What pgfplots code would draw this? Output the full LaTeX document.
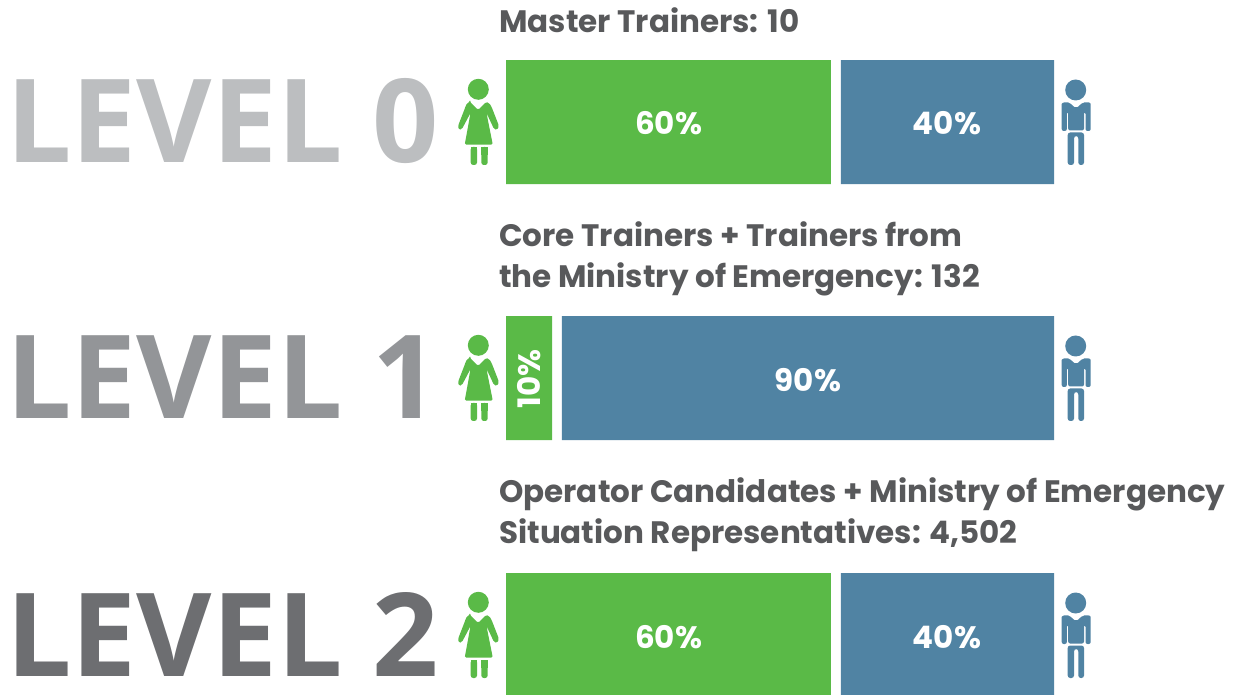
\documentclass[border=0pt]{standalone}
\usepackage{fontspec}
\usepackage{pgfplots}
\pgfplotsset{compat=1.18}
\newfontfamily\levelfont{Open Sans}
\newfontfamily\subfont{Poppins}
\definecolor{grn}{HTML}{5ABA47}
\definecolor{blu}{HTML}{5083A3}
\definecolor{txt}{HTML}{58595B}

% values are percent of the 548 px strip (gap between them is its own series)
\pgfplotstableread{
y   women gap men
122 59.3  1.8 38.9
378 8.4   1.8 89.8
635 59.3  1.8 38.9
}\levels

\newcommand{\woman}[1]{%
  \begin{scope}[shift={(0,#1-122)},fill=grn]
    \fill (478.3,89.3) circle (10.5);
    \fill[rounded corners=1.5] (470,102) -- (478,110) -- (486,102)
      .. controls (490,103) and (491,106) .. (492,108) -- (499,126) -- (497,130) -- (494,129) -- (486.5,113)
      -- (492.8,144.7) -- (464.7,144.7) -- (470.5,113) -- (462,129) -- (459,130) -- (458,126) -- (465,108)
      .. controls (466,105) and (467,103) .. (470,102) -- cycle;
    \fill[rounded corners=2.5] (470.7,147) -- (477,147) -- (477,165) -- (470.7,165) -- cycle;
    \fill[rounded corners=2.5] (481.3,147) -- (487.7,147) -- (487.7,165) -- (481.3,165) -- cycle;
    \fill (470.7,147) rectangle (477,155);
    \fill (481.3,147) rectangle (487.7,155);
  \end{scope}}
\newcommand{\man}[1]{%
  \begin{scope}[shift={(0,#1-122)},fill=blu]
    \fill (1075.7,90) circle (10.5);
    \fill[rounded corners=2] (1061.7,131) -- (1061.7,106) .. controls (1061.7,103) and (1064,102.3) .. (1067,102.3)
      -- (1069,102.3) -- (1076,108.5) -- (1083,102.3) -- (1086,102.3) .. controls (1089,102.3) and (1090.7,103) .. (1090.7,106)
      -- (1090.7,131) -- (1085.5,131) -- (1085.5,112) -- (1084,112) -- (1084,130.5) -- (1068.2,130.5) -- (1068.2,112) -- (1066.8,112) -- (1066.8,131) -- cycle;
    \fill[rounded corners=2.5] (1067.7,132.5) -- (1084,132.5) -- (1084,165) -- (1078.3,165) -- (1078.3,136) -- (1074,136) -- (1074,165) -- (1067.7,165) -- cycle;
  \end{scope}}

\begin{document}
\begin{tikzpicture}[x=1pt,y=1pt]
\useasboundingbox (0,0) rectangle (1253,694);
\begin{axis}[
    at={(0,0)}, anchor=south west,
    scale only axis, width=1253pt, height=694pt,
    axis lines=none,
    xbar stacked, bar width=124pt,
    y dir=reverse,
    xmin=-92.336, xmax=136.314,
    ymin=0, ymax=694,
    ]
\addplot[draw=none,fill=grn] table[x=women,y=y] {\levels};
\addplot[draw=none,fill=none] table[x=gap,y=y] {\levels};
\addplot[draw=none,fill=blu] table[x=men,y=y] {\levels};
\end{axis}
\begin{scope}[shift={(0,694)},y=-1pt]
  \foreach \yy/\lab/\col in {163/0/BCBEC0,419/1/939598,676/2/6D6E71}{
    \definecolor{lv}{HTML}{\col}
    \node[anchor=base west,inner sep=0,text=lv,font=\levelfont\bfseries\fontsize{116}{116}\selectfont] at (6,\yy) {LEVEL \lab};
  }
  \woman{122}\woman{378}\woman{635}
  \man{122}\man{378}\man{635}
  \tikzset{sub/.style={anchor=base west,inner sep=0,text=txt,font=\subfont\bfseries\fontsize{31}{31}\selectfont},
           pct/.style={inner sep=0,text=white,font=\subfont\bfseries\fontsize{31}{31}\selectfont,anchor=base}}
  \node[sub] at (499,33) {Master Trainers: 10};
  \node[sub] at (499,247) {Core Trainers + Trainers from};
  \node[sub] at (499,288) {the Ministry of Emergency: 132};
  \node[sub] at (499,503) {Operator Candidates + Ministry of Emergency};
  \node[sub] at (499,544) {Situation Representatives: 4,502};
  \node[pct] at (668.5,135) {60\%};
  \node[pct] at (947,135) {40\%};
  \node[pct] at (808,392) {90\%};
  \node[pct,rotate=90] at (540,379) {10\%};
  \node[pct] at (668.5,648) {60\%};
  \node[pct] at (947,648) {40\%};
\end{scope}
\end{tikzpicture}
\end{document}
